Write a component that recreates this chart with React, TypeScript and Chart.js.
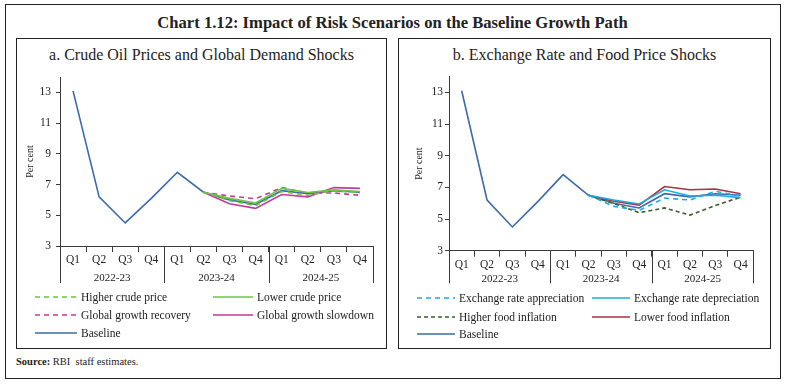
import React, { useEffect, useRef } from 'react';
import { Chart, registerables } from 'chart.js';
Chart.register(...registerables);

const quarters = ['Q1', 'Q2', 'Q3', 'Q4', 'Q1', 'Q2', 'Q3', 'Q4', 'Q1', 'Q2', 'Q3', 'Q4'];
const fiscalYears = ['2022-23', '2023-24', '2024-25'];
const yTicks = [3, 5, 7, 9, 11, 13];

const baseline = [13.1, 6.2, 4.5, 6.1, 7.8, 6.5, 6.0, 5.7, 6.6, 6.4, 6.6, 6.5];
// Panel a
const higherCrude = [null, null, null, null, null, 6.5, 5.95, 5.62, 6.55, 6.3, 6.6, 6.45];
const lowerCrude = [null, null, null, null, null, 6.5, 6.1, 5.8, 6.75, 6.48, 6.65, 6.55];
const growthRecovery = [null, null, null, null, null, 6.5, 6.25, 6.08, 6.8, 6.45, 6.45, 6.3];
const growthSlowdown = [null, null, null, null, null, 6.5, 5.75, 5.45, 6.35, 6.2, 6.8, 6.75];
// Panel b
const fxAppreciation = [null, null, null, null, null, 6.5, 5.8, 5.55, 6.32, 6.2, 6.75, 6.45];
const fxDepreciation = [null, null, null, null, null, 6.5, 6.2, 5.95, 6.85, 6.45, 6.5, 6.35];
const higherFood = [null, null, null, null, null, 6.5, 5.98, 5.4, 5.7, 5.25, 5.85, 6.38];
const lowerFood = [null, null, null, null, null, 6.5, 6.12, 5.88, 7.05, 6.85, 6.9, 6.6];

const FONT = '"Liberation Serif", "Times New Roman", serif';
const AXIS = '#3a3a3a';

type Series = { label: string; data: (number | null)[]; color: string; dash: number[]; width?: number };

const panelA: Series[] = [
  { label: 'Higher crude price', data: higherCrude, color: '#6cc644', dash: [5, 4] },
  { label: 'Lower crude price', data: lowerCrude, color: '#6cc644', dash: [] },
  { label: 'Global growth recovery', data: growthRecovery, color: '#c23a9b', dash: [5, 4] },
  { label: 'Global growth slowdown', data: growthSlowdown, color: '#c23a9b', dash: [] },
  { label: 'Baseline', data: baseline, color: '#3d6aa8', dash: [] },
];
const panelB: Series[] = [
  { label: 'Exchange rate appreciation', data: fxAppreciation, color: '#1eaae2', dash: [5, 4] },
  { label: 'Exchange rate depreciation', data: fxDepreciation, color: '#1eaae2', dash: [] },
  { label: 'Higher food inflation', data: higherFood, color: '#3c5a30', dash: [4, 3] },
  { label: 'Lower food inflation', data: lowerFood, color: '#a83340', dash: [] },
  { label: 'Baseline', data: baseline, color: '#3d6aa8', dash: [] },
];

type Geo = {
  left: number; top: number; width: number; height: number;
  yAxisWidth: number; padTop: number; padRight: number; xAxisHeight: number;
  yTickPad: number; yTitlePad: number; yearOffset: number; groupLen: number;
};

const groupPlugin = (geo: Geo) => ({
  id: 'groups',
  afterDraw(chart: any) {
    const x = chart.scales.x;
    const ctx = chart.ctx;
    const bottom = chart.chartArea.bottom;
    const n = quarters.length;
    const per = n / fiscalYears.length;
    const step = (x.right - x.left) / n;
    ctx.save();
    ctx.strokeStyle = AXIS;
    ctx.lineWidth = 1;
    for (let g = 0; g <= fiscalYears.length; g++) {
      const px = Math.round(x.left + g * per * step) + 0.5;
      ctx.beginPath();
      ctx.moveTo(px, bottom);
      ctx.lineTo(px, bottom + geo.groupLen);
      ctx.stroke();
    }
    ctx.fillStyle = '#222';
    ctx.font = `11px ${FONT}`;
    ctx.textAlign = 'center';
    ctx.textBaseline = 'middle';
    fiscalYears.forEach((yr, g) => {
      const cx = x.left + (g + 0.5) * per * step;
      ctx.fillText(yr, cx, bottom + geo.yearOffset);
    });
    ctx.restore();
  },
});

function PanelChart({ series, geo }: { series: Series[]; geo: Geo }) {
  const ref = useRef<HTMLCanvasElement>(null);
  useEffect(() => {
    if (!ref.current) return;
    const chart = new Chart(ref.current, {
      type: 'line',
      data: {
        labels: quarters,
        datasets: series.map((s) => ({
          label: s.label,
          data: s.data,
          borderColor: s.color,
          backgroundColor: s.color,
          borderDash: s.dash,
          borderWidth: s.width ?? 1.6,
          pointRadius: 0,
          tension: 0,
          fill: false,
        })),
      },
      options: {
        animation: false,
        responsive: false,
        maintainAspectRatio: false,
        layout: { padding: { top: geo.padTop, right: geo.padRight, left: 0, bottom: 0 } },
        plugins: { legend: { display: false }, tooltip: { enabled: false }, title: { display: false } },
        scales: {
          x: {
            type: 'category',
            offset: true,
            afterFit: (s: any) => { s.height = geo.xAxisHeight; },
            grid: { display: true, offset: true, drawOnChartArea: false, drawTicks: true, tickLength: 6, color: AXIS, lineWidth: 1 },
            border: { display: true, color: AXIS, width: 1 },
            ticks: { autoSkip: false, maxRotation: 0, minRotation: 0, padding: 1, color: '#222', font: { family: FONT, size: 11.5 } },
          },
          y: {
            type: 'linear',
            min: 3,
            max: 14,
            afterFit: (s: any) => { s.width = geo.yAxisWidth; },
            afterBuildTicks: (s: any) => { s.ticks = yTicks.map((v) => ({ value: v })); },
            grid: { display: true, drawOnChartArea: false, drawTicks: true, tickLength: 4, color: AXIS, lineWidth: 1 },
            border: { display: true, color: AXIS, width: 1 },
            ticks: { padding: geo.yTickPad, color: '#222', font: { family: FONT, size: 11.5 } },
            title: { display: true, text: 'Per cent', color: '#222', padding: { top: geo.yTitlePad, bottom: 0 }, font: { family: FONT, size: 10 } },
          },
        },
      },
      plugins: [groupPlugin(geo)],
    } as any);
    return () => chart.destroy();
  }, []);
  return (
    <canvas
      ref={ref}
      width={geo.width}
      height={geo.height}
      style={{ position: 'absolute', left: geo.left, top: geo.top, width: geo.width, height: geo.height }}
    />
  );
}

function LegendItem({ s, x, y, lineLen }: { s: Series; x: number; y: number; lineLen: number }) {
  return (
    <div style={{ position: 'absolute', left: x, top: y - 8, height: 16, display: 'flex', alignItems: 'center', whiteSpace: 'nowrap' }}>
      <svg width={lineLen} height={4} style={{ display: 'block' }}>
        <line x1={0} y1={2} x2={lineLen} y2={2} stroke={s.color} strokeWidth={1.6} strokeDasharray={s.dash.length ? s.dash.join(' ') : undefined} />
      </svg>
      <span style={{ marginLeft: 4, fontFamily: FONT, fontSize: 11.5, color: '#222' }}>{s.label}</span>
    </div>
  );
}

const geoA: Geo = {
  left: 16, top: 65, width: 371, height: 230,
  yAxisWidth: 44, padTop: 12, padRight: 14, xAxisHeight: 49,
  yTickPad: 5, yTitlePad: 8, yearOffset: 32, groupLen: 37,
};
const geoB: Geo = {
  left: 398, top: 65, width: 372, height: 230,
  yAxisWidth: 51, padTop: 11.5, padRight: 16.7, xAxisHeight: 44.3,
  yTickPad: 2, yTitlePad: 15, yearOffset: 28.5, groupLen: 32.6,
};

const box = (l: number, t: number, r: number, b: number): React.CSSProperties => ({
  position: 'absolute', left: l, top: t, width: r - l, height: b - t, border: '1px solid #222', boxSizing: 'border-box',
});

export default function App() {
  return (
    <div style={{ position: 'fixed', left: 0, top: 0, width: 785, height: 384, background: '#fff', overflow: 'hidden' }}>
      <div style={box(5, 4, 781, 379)} />
      <div style={{ position: 'absolute', left: 0, width: 785, top: 13, lineHeight: '19px', textAlign: 'center', fontFamily: FONT, fontSize: 16.6, fontWeight: 'bold', color: '#222' }}>
        Chart 1.12: Impact of Risk Scenarios on the Baseline Growth Path
      </div>
      <div style={box(16, 38, 387, 349)} />
      <div style={box(398, 38, 771, 349)} />
      <div style={{ position: 'absolute', left: 16, width: 371, top: 46, lineHeight: '18px', textAlign: 'center', fontFamily: FONT, fontSize: 16, color: '#222' }}>
        a. Crude Oil Prices and Global Demand Shocks
      </div>
      <div style={{ position: 'absolute', left: 398, width: 373, top: 46, lineHeight: '18px', textAlign: 'center', fontFamily: FONT, fontSize: 16, color: '#222' }}>
        b. Exchange Rate and Food Price Shocks
      </div>
      <PanelChart series={panelA} geo={geoA} />
      <PanelChart series={panelB} geo={geoB} />
      <LegendItem s={panelA[0]} x={35} y={297} lineLen={42} />
      <LegendItem s={panelA[1]} x={213} y={297} lineLen={40} />
      <LegendItem s={panelA[2]} x={35} y={315} lineLen={42} />
      <LegendItem s={panelA[3]} x={213} y={315} lineLen={40} />
      <LegendItem s={panelA[4]} x={35} y={333} lineLen={42} />
      <LegendItem s={panelB[0]} x={417} y={298} lineLen={38} />
      <LegendItem s={panelB[1]} x={592} y={298} lineLen={38} />
      <LegendItem s={panelB[2]} x={417} y={316.5} lineLen={38} />
      <LegendItem s={panelB[3]} x={592} y={316.5} lineLen={38} />
      <LegendItem s={panelB[4]} x={417} y={334} lineLen={38} />
      <div style={{ position: 'absolute', left: 16, top: 356, fontFamily: FONT, fontSize: 10.5, color: '#222' }}>
        <b>Source:</b> RBI&nbsp; staff estimates.
      </div>
    </div>
  );
}
